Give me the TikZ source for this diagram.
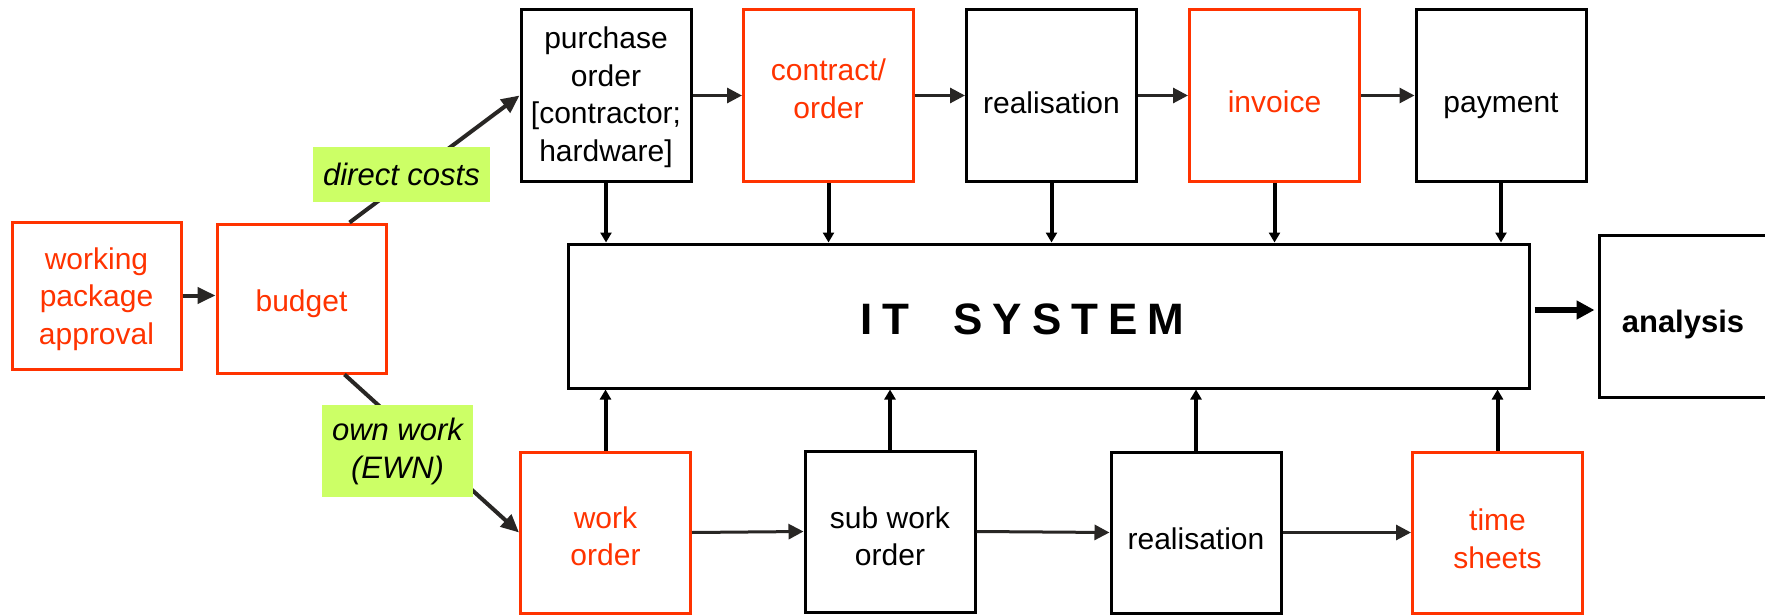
\documentclass[tikz,border=0pt]{standalone}
\usepackage{fontspec}
\setmainfont{Liberation Sans}
\usetikzlibrary{arrows.meta}
\definecolor{accent}{RGB}{255,51,0}
\definecolor{tagfill}{RGB}{204,255,102}
\definecolor{linegray}{RGB}{40,38,36}

\begin{document}
\begin{tikzpicture}[x=1pt,y=-1pt,
  box/.style={draw=black, line width=3pt, inner sep=0pt},
  hot/.style={draw=accent},
  toprow/.style={box, minimum width=170pt, minimum height=172pt},
  botrow/.style={box, minimum width=170pt, minimum height=161pt},
  txt/.style={font=\fontsize{30}{37.5}\selectfont, align=center, inner sep=0pt},
  tag/.style={fill=tagfill, inner sep=0pt, align=center,
              font=\itshape\fontsize{31}{38}\selectfont},
  flow/.style={draw=linegray, line width=3pt, -{Triangle[length=15pt,width=15pt]}},
  branch/.style={draw=linegray, line width=4pt, -{Triangle[length=18pt,width=16pt]}},
  feed/.style={draw=black, line width=4pt, -{Triangle[length=10pt,width=11pt]}},
  output/.style={draw=black, line width=6pt, -{Triangle[length=18pt,width=18pt]}}]

\useasboundingbox (0,0) rectangle (1765,615);
\fill[white] (0,0) rectangle (1765,615);

% planning boxes
\node[box, hot, minimum width=169pt, minimum height=147pt] (wpa) at (96.5,295.5) {};
\node[box, hot, minimum width=169pt, minimum height=149pt] (budget) at (301.5,298.5) {};

% procurement chain
\node[toprow] (po) at (606,95.5) {};
\node[toprow, hot] (con) at (828.5,95.5) {};
\node[toprow] (rea1) at (1051.5,95.5) {};
\node[toprow, hot] (inv) at (1274.5,95.5) {};
\node[toprow] (pay) at (1501,95.5) {};

% central system and reporting
\node[box, minimum width=961pt, minimum height=144pt] (it) at (1048.5,316) {};
\node[box, minimum width=168pt, minimum height=162pt] (ana) at (1683,316) {};

% own-work chain
\node[botrow, hot] (wo) at (605.5,532.5) {};
\node[botrow] (swo) at (890,531.5) {};
\node[botrow] (rea2) at (1196,532.5) {};
\node[botrow, hot] (ts) at (1497.5,532.5) {};

% box texts
\node[txt, text=accent] (wpa-t) at (96.5,299) {working\\package\\approval};
\node[txt, text=accent] (budget-t) at (301.5,304) {budget};
\node[txt] (po-t) at (606,97) {purchase\\order\\{}[contractor;\\hardware]};
\node[txt, text=accent] (con-t) at (828.5,89) {contract/\\order};
\node[txt] (rea1-t) at (1051.5,103) {realisation};
\node[txt, text=accent] (inv-t) at (1274.5,102) {invoice};
\node[txt] (pay-t) at (1501,106) {payment};
\node[inner sep=0pt, font=\bfseries\fontsize{44}{50}\selectfont] (it-t) at (1022.5,319.5)
  {I\hspace{10pt}T\hspace{44pt}S\hspace{10pt}Y\hspace{10pt}S\hspace{10pt}T\hspace{10pt}E\hspace{10pt}M};
\node[inner sep=0pt, font=\bfseries\fontsize{31}{38}\selectfont] (ana-t) at (1683,324) {analysis};
\node[txt, text=accent] (wo-t) at (605.5,536.5) {work\\order};
\node[txt] (swo-t) at (890,536.5) {sub work\\order};
\node[txt] (rea2-t) at (1196,539) {realisation};
\node[txt, text=accent] (ts-t) at (1497.5,539) {time\\sheets};

% sequence arrows
\draw[branch] (wpa.east) -- (wpa.east -| budget.west);
\draw[flow] (po.east) -- (con.west);
\draw[flow] (con.east) -- (rea1.west);
\draw[flow] (rea1.east) -- (inv.west);
\draw[flow] (inv.east) -- (pay.west);
\draw[flow] (wo.east) -- (swo.west);
\draw[flow] (swo.east) -- (rea2.west);
\draw[flow] (rea2.east) -- (ts.west);

% budget split
\draw[branch] ([xshift=48pt]budget.north) -- (po.west);
\draw[branch] ([xshift=43pt]budget.south) -- (wo.west);

% data fed into the IT system
\foreach \n in {po,con,rea1,inv,pay}
  \draw[feed] (\n.south) -- (\n.south |- it.north);
\foreach \n in {wo,swo,rea2,ts}
  \draw[feed] (\n.north) -- (\n.north |- it.south);

\draw[output] ([xshift=4pt,yshift=6pt]it.east) -- ([xshift=-3pt,yshift=6pt]ana.west);

% cost type tags on the branches
\node[tag, minimum width=177pt, minimum height=55pt] (dc) at (401.5,174.5) {direct costs};
\node[tag, minimum width=151pt, minimum height=92pt] (ow) at (397.5,451) {own work\\(EWN)};
\end{tikzpicture}
\end{document}
